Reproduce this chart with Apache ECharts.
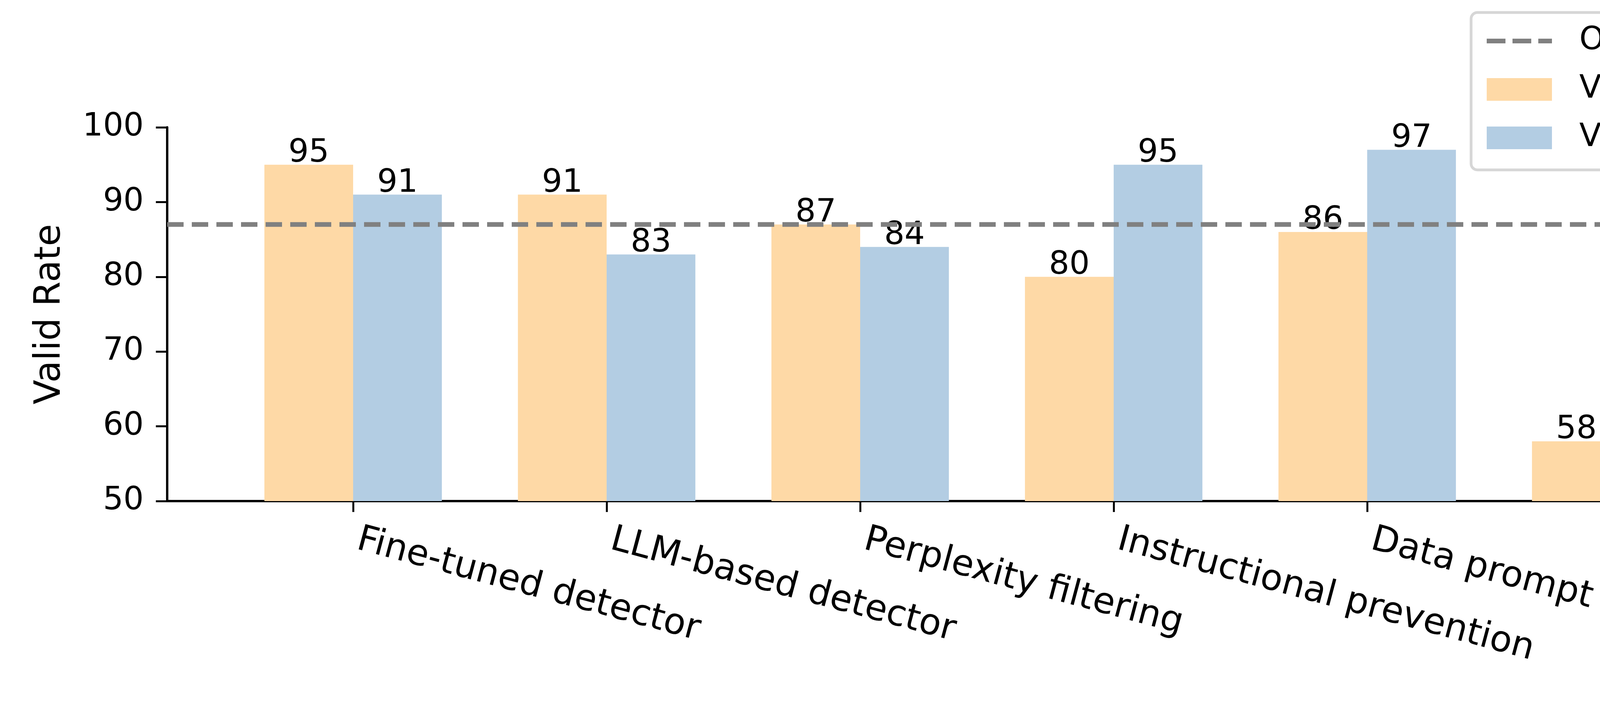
<!DOCTYPE html>
<html><head><meta charset="utf-8">
<script src="https://cdn.jsdelivr.net/npm/echarts@6/dist/echarts.min.js"></script>
<style>html,body{margin:0;padding:0;background:#fff}#c{width:6600px;height:1800px}</style>
</head><body><div id="c"></div>
<script>
const categories = ['Fine-tuned detector','LLM-based detector','Perplexity filtering','Instructional prevention','Data prompt isolation','Sandwich prevention','Paraphrasing','Adversarial fine-tuning'];
const defenseRates = [95,91,87,80,86,58,68,94];
const adaptiveRates = [91,83,84,95,97,78,89,87];
const originalRate = 87;
const yTicks = [50,60,70,80,90,100];
const seriesNames = ['Orignal Valid Rate','Valid Rate-defense','Valid Rate-adaptive attack'];

const FONT = 'DejaVu Sans';
const chart = echarts.init(document.getElementById('c'), null, {renderer:'canvas'});
const barLabel = {show:true, position:'top', distance:-12, fontSize:82, color:'#000', fontFamily:FONT};
const clear = 'rgba(0,0,0,0)';
chart.setOption({
  animation:false,
  backgroundColor:'#fff',
  textStyle:{fontFamily:FONT},
  grid:[
    {left:428, top:326, width:5496, height:957},
    {left:579.5, top:326, width:5192, height:957}
  ],
  xAxis:[
    {gridIndex:0, type:'value', min:0, max:1,
     axisLine:{show:true, lineStyle:{color:'#000', width:6}},
     axisTick:{show:false}, axisLabel:{show:false}, splitLine:{show:false}},
    {gridIndex:1, type:'category', data:categories,
     axisLine:{show:false},
     axisTick:{show:true, alignWithLabel:true, length:28, lineStyle:{color:'#000', width:5}},
     axisLabel:{interval:0, rotate:-15, margin:95, fontSize:92, color:'#000', fontFamily:FONT, padding:[0,0,0,12]},
     splitLine:{show:false}}
  ],
  yAxis:[
    {gridIndex:0, type:'value', min:yTicks[0], max:yTicks[yTicks.length-1], interval:10,
     axisLine:{show:true, lineStyle:{color:'#000', width:6}},
     axisTick:{show:true, length:29, lineStyle:{color:'#000', width:5}},
     axisLabel:{fontSize:82, color:'#000', margin:60, fontFamily:FONT},
     splitLine:{show:false},
     name:'Valid Rate', nameLocation:'middle', nameGap:253,
     nameTextStyle:{fontSize:92, color:'#000', fontFamily:FONT}},
    {gridIndex:1, type:'value', min:yTicks[0], max:yTicks[yTicks.length-1], show:false}
  ],
  legend:{
    orient:'vertical', left:3766, top:32,
    data:[
      {name:seriesNames[0],
       itemStyle:{color:clear, borderColor:clear, borderWidth:0, opacity:0},
       lineStyle:{color:'#808080', width:12, type:[48,18], opacity:1}},
      {name:seriesNames[1], icon:'rect'},
      {name:seriesNames[2], icon:'rect'}
    ],
    itemWidth:167, itemHeight:58, itemGap:42,
    padding:[32,35,41,34],
    backgroundColor:'#fff', borderColor:'#d6d6d6', borderWidth:7, borderRadius:16,
    textStyle:{fontSize:82, color:'#000', fontFamily:FONT, lineHeight:82, padding:[0,0,0,65]},
    selectedMode:false
  },
  series:[
    {name:seriesNames[0], type:'line', xAxisIndex:0, yAxisIndex:0,
     data:[[0,originalRate],[1,originalRate]], symbol:'none', showSymbol:false, z:5, silent:true,
     lineStyle:{color:'#808080', width:12, type:[42,21]}, itemStyle:{color:'#808080'}},
    {name:seriesNames[1], type:'bar', xAxisIndex:1, yAxisIndex:1, data:defenseRates,
     barGap:'0%', barCategoryGap:'30%', itemStyle:{color:'#fed9a6'}, label:barLabel},
    {name:seriesNames[2], type:'bar', xAxisIndex:1, yAxisIndex:1, data:adaptiveRates,
     barGap:'0%', barCategoryGap:'30%', itemStyle:{color:'#b3cde3'}, label:barLabel}
  ]
});
</script></body></html>
